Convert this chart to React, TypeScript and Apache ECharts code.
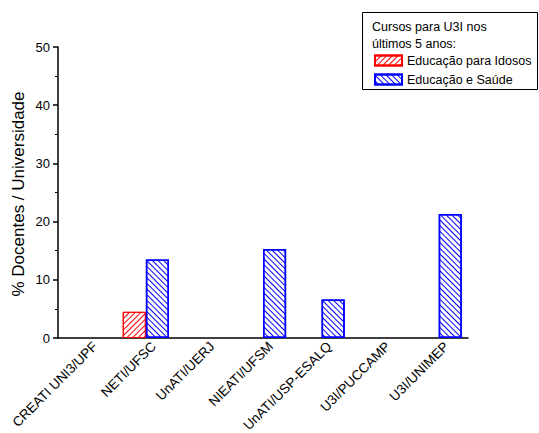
import React, { useEffect, useRef } from "react";
import * as echarts from "echarts";

const categories = [
  "CREATI UNI3/UPF",
  "NETI/UFSC",
  "UnATI/UERJ",
  "NIEATI/UFSM",
  "UnATI/USP-ESALQ",
  "U3I/PUCCAMP",
  "U3I/UNIMEP",
];
const idososValues = [null, 4.5, null, null, null, null, null];
const saudeValues = [null, 13.5, null, 15.3, 6.6, null, 21.3];
const yTicks = [0, 10, 20, 30, 40, 50];
const yAxisTitle = "% Docentes / Universidade";
const legendTitle = ["Cursos para U3I nos", "últimos 5 anos:"];
const seriesNames = ["Educação para Idosos", "Educação e Saúde"];

export default function App() {
  const ref = useRef<HTMLDivElement>(null);
  useEffect(() => {
    document.body.style.margin = "0";
    const chart = echarts.init(ref.current!, null, { renderer: "svg" });
    const font = "Liberation Sans, Arial, sans-serif";
    chart.setOption({
      animation: false,
      backgroundColor: "#ffffff",
      textStyle: { fontFamily: font },
      grid: {
        left: 58,
        top: 47,
        right: 71,
        bottom: 95,
        containLabel: false,
        outerBoundsMode: "none",
      },
      graphic: [
        {
          type: "rect",
          shape: { x: 362.5, y: 12.5, width: 175, height: 77 },
          style: { fill: "#fff", stroke: "#000", lineWidth: 1 },
          z: 0,
        },
        {
          type: "text",
          x: 372,
          y: 20,
          style: { text: legendTitle[0], font: `12.5px ${font}`, fill: "#000" },
          z: 10,
        },
        {
          type: "text",
          x: 372,
          y: 37,
          style: { text: legendTitle[1], font: `12.5px ${font}`, fill: "#000" },
          z: 10,
        },
        {
          type: "text",
          x: 18,
          y: 194,
          rotation: Math.PI / 2,
          style: {
            text: yAxisTitle,
            font: `17px ${font}`,
            fill: "#000",
            align: "center",
            verticalAlign: "middle",
          },
          z: 10,
        },
      ],
      legend: {
        orient: "vertical",
        left: 370,
        top: 49,
        icon: "rect",
        itemWidth: 27,
        itemHeight: 10,
        itemGap: 6,
        padding: [5, 4],
        textStyle: { fontSize: 12.5, color: "#000", fontFamily: font },
        data: seriesNames,
        z: 10,
      },
      xAxis: [
        {
          type: "category",
          data: categories,
          axisLine: { lineStyle: { color: "#000", width: 1.5 } },
          axisTick: { length: 4, lineStyle: { color: "#000", width: 1.5 } },
          axisLabel: {
            rotate: 45,
            interval: 0,
            fontSize: 13.5,
            color: "#000",
            margin: 4,
            verticalAlign: "top",
            padding: [0, -4, 0, 0],
            fontFamily: font,
          },
        },
        {
          type: "category",
          data: categories,
          position: "bottom",
          axisLine: { show: false },
          axisTick: { inside: true, length: 4, lineStyle: { color: "#000", width: 1.5 } },
          axisLabel: { show: false },
        },
        {
          type: "category",
          data: categories,
          position: "bottom",
          axisLine: { show: false },
          axisTick: {
            alignWithLabel: true,
            inside: true,
            length: 1.5,
            lineStyle: { color: "#c8c8c8", width: 1.5 },
          },
          axisLabel: { show: false },
        },
      ],
      yAxis: {
        type: "value",
        min: yTicks[0],
        max: yTicks[yTicks.length - 1],
        interval: 10,
        axisLine: { show: true, lineStyle: { color: "#000", width: 1.5 } },
        axisTick: { show: true, length: 5, lineStyle: { color: "#000", width: 1.5 } },
        minorTick: { show: true, splitNumber: 2, length: 3, lineStyle: { color: "#000", width: 1 } },
        splitLine: { show: false },
        axisLabel: { fontSize: 13, color: "#000", margin: 8, fontFamily: font },
      },
      series: [
        {
          name: seriesNames[0],
          type: "bar",
          data: idososValues,
          barGap: "0%",
          barCategoryGap: "21%",
          itemStyle: {
            color: "#ffffff",
            borderColor: "#ff0000",
            borderWidth: 1,
            decal: {
              symbol: "rect",
              color: "#ff0000",
              dashArrayX: [1, 0],
              dashArrayY: [1, 3],
              rotation: -Math.PI / 4,
            },
          },
        },
        {
          name: seriesNames[1],
          type: "bar",
          data: saudeValues,
          barGap: "0%",
          barCategoryGap: "21%",
          itemStyle: {
            color: "#ffffff",
            borderColor: "#0000ff",
            borderWidth: 1.5,
            decal: {
              symbol: "rect",
              color: "#0000ff",
              dashArrayX: [1, 0],
              dashArrayY: [1, 3],
              rotation: Math.PI / 4,
            },
          },
        },
      ],
    });
    return () => chart.dispose();
  }, []);
  return <div ref={ref} style={{ width: 539, height: 433 }} />;
}
